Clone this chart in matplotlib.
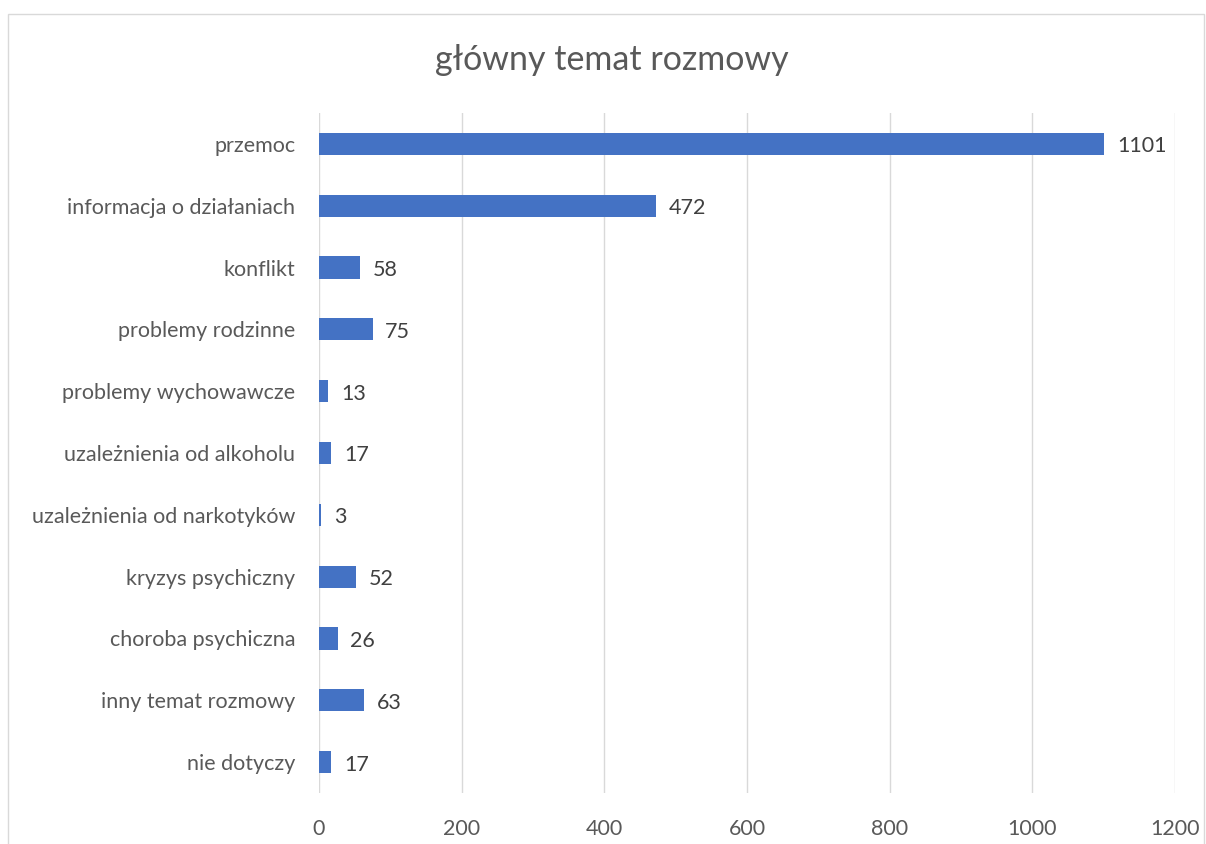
import matplotlib.pyplot as plt
from matplotlib.patches import Rectangle

kategorie = ['przemoc', 'informacja o działaniach', 'konflikt', 'problemy rodzinne',
             'problemy wychowawcze', 'uzależnienia od alkoholu', 'uzależnienia od narkotyków',
             'kryzys psychiczny', 'choroba psychiczna', 'inny temat rozmowy', 'nie dotyczy']
wartosci = [1101, 472, 58, 75, 13, 17, 3, 52, 26, 63, 17]
ticki_x = [0, 200, 400, 600, 800, 1000, 1200]

plt.rcParams['font.family'] = ['Lato', 'DejaVu Sans']

fig = plt.figure(figsize=(12.06, 8.44), dpi=100)
fig.patches.append(Rectangle((8 / 1206, -0.01), 1196 / 1206, 1 - 14 / 844 + 0.01,
                             transform=fig.transFigure, fill=False,
                             edgecolor='#D9D9D9', linewidth=1))
ax = fig.add_axes([319 / 1206, 1 - 793 / 844, 856 / 1206, 680 / 844])

pozycje = list(range(len(kategorie)))
ax.barh(pozycje, wartosci, height=0.36, color='#4472C4', zorder=3)
for p, v in zip(pozycje, wartosci):
    ax.text(v + 18, p + 0.04, str(v), va='center', ha='left', fontsize=15.5, color='#404040')

ax.set_ylim(len(kategorie) - 0.5, -0.5)
ax.set_xlim(0, 1200)
ax.set_yticks(pozycje)
ax.set_yticklabels(kategorie, fontsize=15.5, color='#595959')
ax.set_xticks(ticki_x)
ax.set_xticklabels([str(t) for t in ticki_x], fontsize=15.5, color='#595959')
ax.tick_params(axis='x', length=0, pad=19)
ax.tick_params(axis='y', length=0, pad=17)
ax.grid(axis='x', color='#D9D9D9', linewidth=1, zorder=0)
for s in ax.spines.values():
    s.set_visible(False)

fig.text(612 / 1206, 1 - 60 / 844, 'główny temat rozmowy', ha='center', va='center',
         fontsize=24.5, color='#595959')

fig.savefig('out.png', dpi=100)
